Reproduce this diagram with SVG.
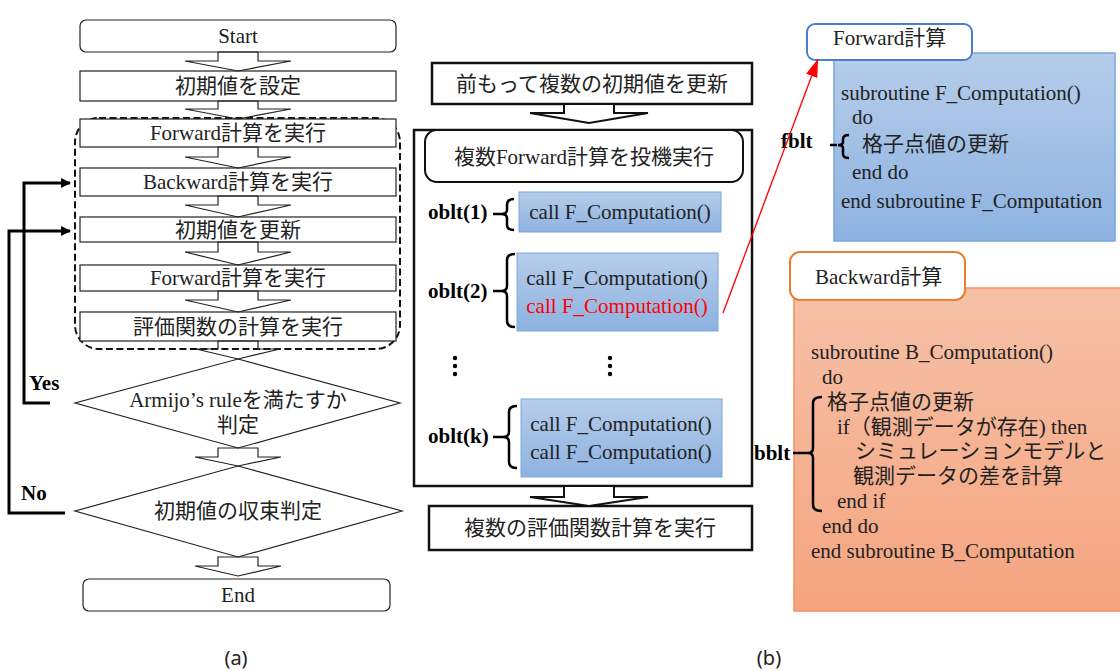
<svg xmlns="http://www.w3.org/2000/svg" width="1120" height="671" viewBox="0 0 1120 671">
  <style>
    .t { font-family: "Liberation Serif", "Noto Sans CJK JP", serif; font-size: 21px; fill: #222; }
    .c { text-anchor: middle; }
    .b { font-weight: bold; fill: #000; }
    .box { fill: #fff; stroke: #222; stroke-width: 1.2; }
    .bold-box { fill: #fff; stroke: #111; stroke-width: 2.5; }
    .flow { fill: none; stroke: #222; stroke-width: 1.2; }
    .flow2 { fill: #fff; stroke: #111; stroke-width: 2; }
    .fb { fill: none; stroke: #000; stroke-width: 3; }
    .brace { fill: none; stroke: #000; stroke-width: 2.5; }
    .cap { font-family: "Noto Sans", "Liberation Sans", sans-serif; font-size: 20px; fill: #222; text-anchor: middle; }
  </style>
  <defs>
    <linearGradient id="blueFill" x1="0" y1="0" x2="0" y2="1">
      <stop offset="0" stop-color="#b6cdea"/>
      <stop offset="1" stop-color="#8db2e1"/>
    </linearGradient>
    <linearGradient id="orangeFill" x1="0" y1="0" x2="0" y2="1">
      <stop offset="0" stop-color="#f6c1a8"/>
      <stop offset="1" stop-color="#f5a47f"/>
    </linearGradient>
    <marker id="headBlack" markerWidth="10" markerHeight="10" refX="9" refY="5" orient="auto" markerUnits="userSpaceOnUse">
      <path d="M0,0 L10,5 L0,10 Z" fill="#000"/>
    </marker>
    <marker id="headRed" markerWidth="18" markerHeight="12" refX="18" refY="6" orient="auto" markerUnits="userSpaceOnUse" viewBox="0 0 18 12">
      <path d="M0,0 L18,6 L0,12 Z" fill="#ff0000"/>
    </marker>
  </defs>

  <!-- (a) flowchart -->
  <g id="loop-region">
    <rect x="75" y="118" width="325" height="231" rx="24" fill="none" stroke="#111" stroke-width="2" stroke-dasharray="7,3.5"/>
  </g>
  <g id="start">
    <rect class="box" x="80" y="20" width="316" height="32" rx="6"/>
    <text class="t c" x="238" y="43">Start</text>
  </g>
  <g id="init-set">
    <rect class="box" x="80" y="71" width="316" height="30"/>
    <text class="t c" x="238" y="93">初期値を設定</text>
  </g>
  <g id="forward-1">
    <rect class="box" x="80" y="119" width="316" height="28"/>
    <text class="t c" x="238" y="140">Forward計算を実行</text>
  </g>
  <g id="backward">
    <rect class="box" x="80" y="168" width="316" height="28"/>
    <text class="t c" x="238" y="189">Backward計算を実行</text>
  </g>
  <g id="init-update">
    <rect class="box" x="80" y="217" width="316" height="25"/>
    <text class="t c" x="238" y="237">初期値を更新</text>
  </g>
  <g id="forward-2">
    <rect class="box" x="80" y="265" width="316" height="26"/>
    <text class="t c" x="238" y="285">Forward計算を実行</text>
  </g>
  <g id="evaluate">
    <rect class="box" x="80" y="312" width="316" height="29"/>
    <text class="t c" x="238" y="334">評価関数の計算を実行</text>
  </g>
  <g id="armijo">
    <polygon class="flow" points="238,359 400,403 238,448 75,403"/>
    <text class="t c" x="238" y="407">Armijo’s ruleを満たすか</text>
    <text class="t c" x="238" y="432">判定</text>
  </g>
  <g id="converge">
    <polygon class="flow" points="238,466 402,511 238,557 75,511"/>
    <text class="t c" x="238" y="518">初期値の収束判定</text>
  </g>
  <g id="end">
    <rect class="box" x="83" y="579" width="307" height="32" rx="6"/>
    <text class="t c" x="238" y="602">End</text>
  </g>
  <g id="loop-labels">
    <text class="t b" x="29" y="390" font-size="23">Yes</text>
    <text class="t b" x="21" y="500" font-size="23">No</text>
  </g>

  <!-- (b) speculative execution -->
  <g id="pre-update">
    <rect class="bold-box" x="432" y="63" width="320" height="41"/>
    <text class="t c" x="592" y="91" font-size="22">前もって複数の初期値を更新</text>
  </g>
  <g id="speculative">
    <rect class="bold-box" x="414" y="130" width="338" height="356"/>
    <rect x="425" y="130" width="318" height="52" rx="12" fill="#fff" stroke="#111" stroke-width="2"/>
    <text class="t c" x="584" y="164">複数Forward計算を投機実行</text>
  </g>
  <g id="oblt-1">
    <rect x="519" y="192" width="202" height="40" fill="url(#blueFill)" stroke="#7fa7d9" stroke-width="1"/>
    <text class="t c" x="620" y="219" fill="#000">call F_Computation()</text>
    <text class="t b" x="428" y="219" font-size="23">oblt(1)</text>
  </g>
  <g id="oblt-2">
    <rect x="517" y="253" width="201" height="78" fill="url(#blueFill)" stroke="#7fa7d9" stroke-width="1"/>
    <text class="t c" x="617" y="285" fill="#000">call F_Computation()</text>
    <text class="t c" x="617" y="313" style="fill:#ff0000">call F_Computation()</text>
    <text class="t b" x="428" y="298" font-size="23">oblt(2)</text>
  </g>
  <g id="ellipsis">
    <circle cx="455" cy="358" r="2.2" fill="#000"/>
    <circle cx="455" cy="366" r="2.2" fill="#000"/>
    <circle cx="455" cy="374" r="2.2" fill="#000"/>
    <circle cx="610" cy="358" r="2.2" fill="#000"/>
    <circle cx="610" cy="366" r="2.2" fill="#000"/>
    <circle cx="610" cy="374" r="2.2" fill="#000"/>
  </g>
  <g id="oblt-k">
    <rect x="521" y="399" width="201" height="78" fill="url(#blueFill)" stroke="#7fa7d9" stroke-width="1"/>
    <text class="t c" x="621" y="431" fill="#000">call F_Computation()</text>
    <text class="t c" x="621" y="459" fill="#000">call F_Computation()</text>
    <text class="t b" x="428" y="443" font-size="23">oblt(k)</text>
  </g>
  <g id="multi-evaluate">
    <rect class="bold-box" x="429" y="506" width="323" height="44"/>
    <text class="t c" x="590" y="535">複数の評価関数計算を実行</text>
  </g>

  <!-- subroutine listings -->
  <g id="forward-sub">
    <rect x="834" y="53" width="281" height="188" fill="url(#blueFill)" stroke="#7aa5da" stroke-width="1.5"/>
    <rect x="807" y="24" width="165" height="36" rx="8" fill="#fff" stroke="#4a7fd0" stroke-width="2"/>
    <text class="t" x="833" y="45">Forward計算</text>
    <text class="t" x="841" y="100" fill="#000">subroutine F_Computation()</text>
    <text class="t" x="852" y="124" fill="#000">do</text>
    <text class="t" x="862" y="151">格子点値の更新</text>
    <text class="t" x="852" y="179" fill="#000">end do</text>
    <text class="t" x="841" y="208" fill="#000">end subroutine F_Computation</text>
    <text class="t b" x="781" y="148" font-size="22">fblt</text>
  </g>
  <g id="backward-sub">
    <rect x="794" y="288" width="330" height="323" fill="url(#orangeFill)" stroke="#f0915f" stroke-width="1.5"/>
    <rect x="790" y="252" width="175" height="48" rx="10" fill="#fff" stroke="#ed7d31" stroke-width="2"/>
    <text class="t" x="815" y="284" fill="#000">Backward計算</text>
    <text class="t" x="811" y="359" fill="#000">subroutine B_Computation()</text>
    <text class="t" x="822" y="384" fill="#000">do</text>
    <text class="t" x="827" y="409">格子点値の更新</text>
    <text class="t" x="837" y="434" fill="#000">if（観測データが存在) then</text>
    <text class="t" x="855" y="458">シミュレーションモデルと</text>
    <text class="t" x="853" y="483">観測データの差を計算</text>
    <text class="t" x="837" y="508" fill="#000">end if</text>
    <text class="t" x="822" y="533" fill="#000">end do</text>
    <text class="t" x="811" y="558" fill="#000">end subroutine B_Computation</text>
    <text class="t b" x="754" y="460" font-size="22">bblt</text>
  </g>

  <!-- panel captions -->
  <text class="cap" x="236" y="665">(a)</text>
  <text class="cap" x="769" y="665">(b)</text>

  <!-- connectors, drawn over the boxes -->
  <g id="connectors">
    <!-- block arrows, left flow -->
    <polygon class="flow" points="218,52 258,52 258,61 291,61 238,71 185,61 218,61"/>
    <polygon class="flow" points="218,101 258,101 258,109 291,109 238,119 185,109 218,109"/>
    <polygon class="flow" points="218,147 258,147 258,157 291,157 238,168 185,157 218,157"/>
    <polygon class="flow" points="218,196 258,196 258,205 291,205 238,217 185,205 218,205"/>
    <polygon class="flow" points="218,242 258,242 258,252 291,252 238,265 185,252 218,252"/>
    <polygon class="flow" points="218,291 258,291 258,300 291,300 238,312 185,300 218,300"/>
    <polygon class="flow" points="218,341 258,341 258,349 280,349 238,359 196,349 218,349"/>
    <polygon class="flow" points="218,448 258,448 258,457 281,457 238,466 195,457 218,457"/>
    <polygon class="flow" points="218,557 258,557 258,566 281,566 238,576 195,566 218,566"/>

    <!-- feedback loops -->
    <path class="fb" d="M50,403 H24 V183 H70" marker-end="url(#headBlack)"/>
    <path class="fb" d="M65,513 H9 V231 H70" marker-end="url(#headBlack)"/>

    <!-- block arrows, middle flow -->
    <polygon class="flow2" points="564,104 614,104 614,113 648,113 589,123 530,113 564,113"/>
    <polygon class="flow2" points="564,486 614,486 614,497 648,497 589,506 530,497 564,497"/>

    <!-- braces -->
    <path class="brace" d="M493,214 H501 M514,199 Q507,199 507,205 V210 Q507,214 501,214 Q507,214 507,218 V225 Q507,230 514,230"/>
    <path class="brace" d="M493,291 H501 M515,254 Q507,254 507,260 V286 Q507,291 501,291 Q507,291 507,296 V321 Q507,327 515,327"/>
    <path class="brace" d="M493,437 H503 M517,406 Q509,406 509,412 V432 Q509,437 503,437 Q509,437 509,442 V462 Q509,468 517,468"/>
    <path class="brace" d="M830,145 H837 M849,135 Q843,135 843,139 V142 Q843,145 838,145 Q843,145 843,148 V154 Q843,158 849,158"/>
    <path class="brace" d="M793,453 H808 M822,397 Q813,397 813,403 V448 Q813,453 808,453 Q813,453 813,458 V505 Q813,511 822,511"/>

    <!-- call link to subroutine -->
    <line x1="723" y1="313" x2="818" y2="59" stroke="#ff0000" stroke-width="1.3" marker-end="url(#headRed)"/>
  </g>
</svg>
